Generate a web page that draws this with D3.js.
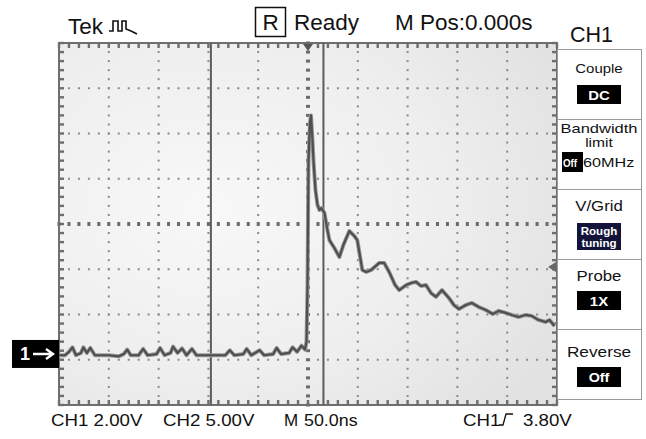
<!DOCTYPE html>
<html><head><meta charset="utf-8">
<script src="https://cdn.jsdelivr.net/npm/d3@7"></script>
<style>
html,body{margin:0;padding:0;background:#fff;}
svg{display:block;font-family:"Liberation Sans",Arial,sans-serif;}
</style></head>
<body><svg id="c" width="646" height="439"></svg>
<script>
// ---- data (time in ns relative to trigger, voltage in V) ----
const traceTime = [
  -250,-244,-240,-236.5,-233,-228,-225.5,-222,-218.5,-214,
  -200,-190,-185,-181.5,-178,-170,-165.5,-161,-152,-148.5,
  -144,-138,-135.5,-131,-126.5,-122,-116.5,-112,-95,-83,
  -78.5,-74,-65,-61.5,-57,-48.5,-44,-35,-31.5,-27,
  -19,-15.5,-11,-6.5,-3,-1.5,-0.5,0.5,2,3,
  4.5,5.5,7.5,9.5,11.5,13.5,16.5,19.5,21.5,26.5,
  31.5,35.5,41.5,46.5,49.5,54.5,58.5,63.5,71.5,76.5,
  81.5,87.5,91.5,98.5,103.5,108.5,113.5,118.5,123.5,128.5,
  134.5,141.5,146.5,151.5,158.5,164.5,171.5,178.5,185.5,191.5,
  198.5,204.5,211.5,218.5,224.5,231.5,238.5,242.5,247.5];
const traceVolt = [
  -0.1,-0.1,0.05,0.25,-0.1,0.0,0.25,0.0,0.22,-0.1,
  -0.1,-0.15,-0.05,0.15,-0.1,-0.1,0.18,-0.1,-0.05,0.22,
  -0.1,0.0,0.28,0.0,0.2,-0.1,0.18,-0.1,-0.1,-0.1,
  0.12,-0.1,-0.05,0.18,-0.1,0.12,-0.1,-0.05,0.22,-0.05,
  0.0,0.25,0.05,0.32,0.15,0.5,3.0,8.5,10.2,10.5,
  9.4,8.5,7.2,6.55,6.32,6.4,6.19,5.44,4.99,4.64,
  4.24,4.77,5.39,5.17,4.99,3.67,3.58,3.67,3.98,3.98,
  3.58,3.0,2.78,3.0,3.09,3.14,2.96,3.0,2.65,2.48,
  2.78,2.43,2.12,1.94,2.12,2.21,2.03,1.9,1.72,1.86,
  1.77,1.68,1.59,1.68,1.64,1.46,1.37,1.46,1.19];
const cursorTimes = [-97.5, 15.5];
const triggerLevel = 3.80;
const headerTexts = ["Tek", "R", "Ready", "M Pos:0.000s", "CH1"];
const footerTexts = ["CH1 2.00V", "CH2 5.00V", "M", "50.0ns", "CH1", "3.80V"];
const menuTitles = [["Couple"], ["Bandwidth", "limit"], ["V/Grid"], ["Probe"], ["Reverse"]];
const menuValues = [["DC"], ["Off"], ["Rough", "tuning"], ["1X"], ["Off"]];
const bandwidthNote = "60MHz";
const channelMarker = "1";

// ---- layout ----
const svg = d3.select("#c");
const L = 59, R = 557, T = 43, B = 405;
const nsPerDiv = 50, vPerDiv = 2, groundDiv = -2.85;
const x = d3.scaleLinear().domain([-5*nsPerDiv, 5*nsPerDiv]).range([L, R]);
const y = d3.scaleLinear().domain([(-4 - groundDiv)*vPerDiv, (4 - groundDiv)*vPerDiv]).range([B, T]);
const xDiv = d3.scaleLinear().domain([-5,5]).range([L,R]);
const yDiv = d3.scaleLinear().domain([-4,4]).range([B,T]);

function txt(g, s, px, py, size, sx, opts={}){
  const t = g.append("text").attr("transform",`translate(${px},${py}) scale(${sx},1)`)
    .attr("font-size",size).attr("fill",opts.fill||"#111").text(s);
  if (opts.anchor) t.attr("text-anchor",opts.anchor);
  if (opts.bold) t.attr("font-weight","bold");
  return t;
}

// plot background with a mottled look
const defs = svg.append("defs");
const rg = defs.append("radialGradient").attr("id","bgG").attr("cx","0.3").attr("cy","0.45").attr("r","0.8");
rg.append("stop").attr("offset","0").attr("stop-color","#f8f8f8");
rg.append("stop").attr("offset","0.6").attr("stop-color","#eeeeee");
rg.append("stop").attr("offset","1").attr("stop-color","#e2e2e2");
svg.append("rect").attr("x",L).attr("y",T).attr("width",R-L).attr("height",B-T).attr("fill","url(#bgG)");

// grid dots
const g = svg.append("g");
const dotCol = "#8a8a8a";
for (let i=-4;i<=4;i++){
  if (i===0) continue;
  for (let k=-25;k<=25;k++){
    g.append("rect").attr("x",xDiv(k/5)-1).attr("y",yDiv(i)-1).attr("width",2).attr("height",2).attr("fill",dotCol);
  }
}
for (let i=-4;i<=4;i++){
  if (i===0) continue;
  for (let k=-20;k<=20;k++){
    g.append("rect").attr("x",xDiv(i)-1).attr("y",yDiv(k/5)-1).attr("width",2).attr("height",2).attr("fill",dotCol);
  }
}
// center cross (heavier)
for (let k=-25;k<=25;k++){
  g.append("rect").attr("x",xDiv(k/5)-1.5).attr("y",yDiv(0)-2).attr("width",3).attr("height",4).attr("fill","#6a6a6a");
}
for (let k=-20;k<=20;k++){
  g.append("rect").attr("x",xDiv(0)-2).attr("y",yDiv(k/5)-1.5).attr("width",4).attr("height",3).attr("fill","#6a6a6a");
}
// border with comb ticks
const bc = "#6e6e6e";
svg.append("rect").attr("x",L).attr("y",T).attr("width",R-L).attr("height",B-T).attr("fill","none").attr("stroke",bc).attr("stroke-width",2);
for (let k=-25;k<=25;k++){
  const xx = xDiv(k/5);
  g.append("rect").attr("x",xx-1.2).attr("y",T).attr("width",2.4).attr("height",5).attr("fill",bc);
  g.append("rect").attr("x",xx-1.2).attr("y",B-5).attr("width",2.4).attr("height",5).attr("fill",bc);
}
for (let k=-20;k<=20;k++){
  const yy = yDiv(k/5);
  g.append("rect").attr("x",L).attr("y",yy-1.2).attr("width",5).attr("height",2.4).attr("fill",bc);
  g.append("rect").attr("x",R-5).attr("y",yy-1.2).attr("width",5).attr("height",2.4).attr("fill",bc);
}

// cursors
svg.selectAll(".cur").data(cursorTimes).join("line")
  .attr("x1",d=>x(d)).attr("x2",d=>x(d)).attr("y1",T).attr("y2",B)
  .attr("stroke","#5c5c5c").attr("stroke-width",2);

// trace
const pts = traceTime.map((t,i)=>[t, traceVolt[i]]);
const line = d3.line().x(d=>x(d[0])).y(d=>y(d[1]));
svg.append("path").attr("d",line(pts)).attr("fill","none").attr("stroke","#9a9a9a").attr("stroke-width",4).attr("stroke-linejoin","round");
svg.append("path").attr("d",line(pts)).attr("fill","none").attr("stroke","#4f4f4f").attr("stroke-width",2.2).attr("stroke-linejoin","round");

// trigger position marker (top) and trigger level marker (right)
const tx = x(0);
svg.append("path").attr("d",`M${tx-5},${T+1}L${tx+5},${T+1}L${tx},${T+8}Z`).attr("fill","#555");
const ty = y(triggerLevel);
svg.append("path").attr("d",`M${R-1},${ty-5}L${R-1},${ty+5}L${R-9},${ty}Z`).attr("fill","#666");

// channel marker
const gy = y(0);
svg.append("rect").attr("x",12).attr("y",gy-13).attr("width",47).attr("height",28).attr("fill","#000");
svg.append("text").attr("x",20).attr("y",gy+7).attr("fill","#fff").attr("font-size",18).attr("font-weight","bold").text(channelMarker);
svg.append("path").attr("d",`M33,${gy+1}L52,${gy+1}M46,${gy-4}L53,${gy+1}L46,${gy+6}`).attr("stroke","#fff").attr("stroke-width",2.4).attr("fill","none");

// header
const hdr = svg.append("g");
txt(hdr, headerTexts[0], 68, 34, 22.5, 1.0);
hdr.append("path").attr("d","M109,31 L113,31 L113,21 L118,21 L118,31 L122,31 L122,21 L126,21 L126,29 L131,31 L137,34")
  .attr("fill","none").attr("stroke","#111").attr("stroke-width",1.6);
hdr.append("rect").attr("x",255.5).attr("y",7.5).attr("width",30).attr("height",29).attr("fill","none").attr("stroke","#111").attr("stroke-width",1.5);
txt(hdr, headerTexts[1], 270.5, 30, 22.5, 1.0, {anchor:"middle"});
txt(hdr, headerTexts[2], 294, 30, 22.5, 1.0);
txt(hdr, headerTexts[3], 395, 30, 22.5, 1.0);
txt(hdr, headerTexts[4], 570, 42, 21.5, 1.0);

// footer
const ftr = svg.append("g");
txt(ftr, footerTexts[0], 51, 426, 17, 1.1);
txt(ftr, footerTexts[1], 163, 426, 17, 1.1);
txt(ftr, footerTexts[2], 284, 426, 17, 1.0);
txt(ftr, footerTexts[3], 304, 426, 17, 1.05);
txt(ftr, footerTexts[4], 463, 426, 17, 1.1);
ftr.append("path").attr("d","M499,425 L503,425 L506,414 L513,414").attr("fill","none").attr("stroke","#111").attr("stroke-width",1.3);
txt(ftr, footerTexts[5], 523, 426, 17, 1.1);

// menu panel
const MX = 557, MW = 84, boxTop = [49,119,189,259,329], boxH = 70;
const menu = svg.append("g");
boxTop.forEach(bt=>{
  menu.append("rect").attr("x",MX+0.5).attr("y",bt+0.5).attr("width",MW).attr("height",boxH).attr("fill","#fff").attr("stroke","#9a9a9a").attr("stroke-width",1);
});
const cx = 599;
txt(menu, menuTitles[0][0], cx, 73, 13, 1.15, {anchor:"middle"});
txt(menu, menuTitles[1][0], cx, 133, 13, 1.27, {anchor:"middle"});
txt(menu, menuTitles[1][1], cx, 147, 13, 1.2, {anchor:"middle"});
txt(menu, menuTitles[2][0], cx, 211, 15, 1.12, {anchor:"middle"});
txt(menu, menuTitles[3][0], cx, 281, 15, 1.12, {anchor:"middle"});
txt(menu, menuTitles[4][0], cx, 357, 15, 1.15, {anchor:"middle"});
function vbox(xx,yy,w,h,fill){ menu.append("rect").attr("x",xx).attr("y",yy).attr("width",w).attr("height",h).attr("fill",fill); }
vbox(577,85,44,19,"#000");
txt(menu, menuValues[0][0], 599, 100, 13, 1.15, {anchor:"middle", fill:"#fff", bold:true});
vbox(562,152,21,20,"#000");
txt(menu, menuValues[1][0], 563, 167, 11.5, 0.85, {fill:"#fff", bold:true});
txt(menu, bandwidthNote, 583, 167, 13.5, 1.2);
vbox(577,223,44,27,"#14143a");
txt(menu, menuValues[2][0], 599, 235, 10.5, 1.1, {anchor:"middle", fill:"#fff", bold:true});
txt(menu, menuValues[2][1], 599, 247, 10.5, 1.1, {anchor:"middle", fill:"#fff", bold:true});
vbox(577,291,44,19,"#000");
txt(menu, menuValues[3][0], 599, 306, 13, 1.15, {anchor:"middle", fill:"#fff", bold:true});
vbox(577,367,44,20,"#000");
txt(menu, menuValues[4][0], 599, 382, 12.5, 1.15, {anchor:"middle", fill:"#fff", bold:true});
</script></body></html>
